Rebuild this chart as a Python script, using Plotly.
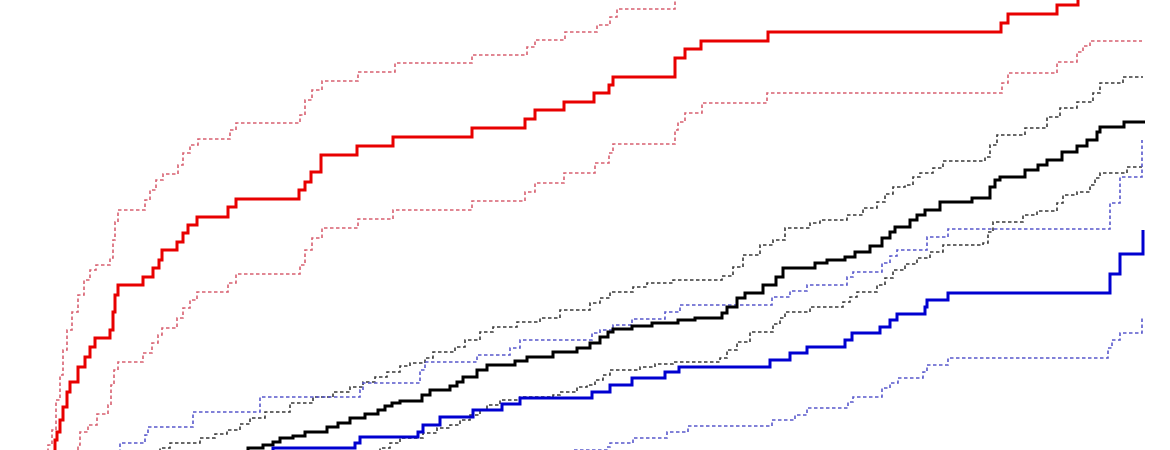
import plotly.graph_objects as go

# Step functions: (time, cumulative value) at each jump
red_x = [40, 55, 57, 60, 63, 67, 70, 78, 85, 90, 95, 110, 113, 115, 118, 143, 153, 159, 162, 177, 183, 188, 197, 228, 236, 299, 305, 311, 321, 357, 393, 472, 525, 535, 564, 594, 609, 613, 675, 685, 701, 768, 1001, 1008, 1057, 1078]
red_y = [-20, 10, 18, 30, 43, 58, 68, 83, 93, 103, 112, 120, 138, 155, 165, 173, 182, 190, 200, 208, 217, 225, 233, 243, 251, 260, 268, 278, 295, 304, 313, 322, 331, 340, 348, 357, 365, 373, 392, 401, 409, 418, 427, 436, 445, 470]

red_hi_x = [44, 48, 52, 56, 60, 63, 67, 72, 78, 84, 90, 96, 110, 113, 115, 118, 145, 150, 156, 163, 178, 183, 190, 198, 230, 236, 300, 305, 312, 322, 358, 395, 472, 527, 535, 565, 597, 610, 617, 675]
red_hi_y = [-10, 5, 20, 50, 75, 100, 120, 138, 155, 170, 180, 185, 192, 210, 228, 240, 250, 260, 270, 276, 285, 297, 305, 311, 320, 327, 335, 350, 360, 369, 378, 387, 395, 403, 410, 418, 425, 433, 441, 470]

red_lo_x = [76, 78, 80, 88, 97, 108, 111, 114, 118, 143, 152, 158, 162, 177, 183, 190, 197, 228, 236, 300, 305, 312, 322, 358, 393, 472, 525, 535, 564, 595, 609, 613, 675, 678, 685, 702, 767, 1002, 1008, 1057, 1077, 1083, 1090, 1142]
red_lo_y = [-10, 5, 18, 25, 36, 45, 65, 80, 88, 97, 107, 115, 122, 132, 142, 150, 158, 167, 176, 185, 200, 212, 222, 231, 240, 249, 258, 267, 277, 287, 297, 306, 320, 328, 337, 347, 357, 367, 377, 388, 398, 404, 409, 409]

blk_x = [240, 248, 263, 273, 280, 293, 305, 327, 338, 350, 365, 378, 385, 392, 400, 422, 430, 450, 457, 463, 477, 487, 515, 527, 553, 577, 590, 600, 608, 613, 632, 652, 678, 695, 722, 727, 737, 745, 763, 776, 783, 815, 827, 845, 855, 870, 882, 890, 895, 910, 917, 925, 940, 972, 990, 995, 1000, 1025, 1038, 1047, 1062, 1077, 1087, 1097, 1100, 1124, 1145]
blk_y = [-10, 2, 5, 8, 12, 14, 18, 23, 27, 32, 36, 40, 44, 47, 49, 55, 60, 64, 68, 73, 80, 85, 89, 93, 98, 102, 107, 113, 118, 121, 124, 127, 130, 132, 137, 143, 152, 157, 165, 173, 182, 187, 190, 193, 198, 204, 212, 218, 223, 230, 235, 240, 248, 252, 263, 270, 273, 280, 285, 290, 298, 304, 310, 318, 323, 328, 328]

blk_hi_x = [150, 160, 170, 200, 215, 227, 240, 250, 265, 290, 313, 333, 350, 363, 375, 387, 400, 410, 425, 433, 455, 465, 480, 493, 517, 540, 560, 590, 600, 610, 633, 647, 673, 722, 733, 743, 760, 773, 785, 810, 820, 847, 863, 877, 885, 893, 905, 913, 920, 933, 943, 985, 990, 997, 1025, 1047, 1060, 1077, 1093, 1100, 1123, 1143]
blk_hi_y = [-10, 2, 7, 12, 16, 20, 26, 32, 38, 47, 53, 58, 63, 68, 73, 78, 84, 87, 92, 98, 103, 110, 118, 123, 128, 132, 140, 147, 152, 158, 163, 167, 170, 174, 183, 195, 205, 210, 222, 227, 230, 235, 242, 248, 256, 263, 265, 273, 277, 282, 289, 293, 305, 315, 322, 333, 342, 348, 357, 367, 373, 373]

blk_lo_x = [370, 380, 390, 400, 423, 437, 450, 460, 470, 480, 487, 500, 520, 553, 560, 577, 587, 595, 603, 610, 640, 655, 673, 720, 727, 737, 750, 773, 780, 785, 810, 843, 850, 857, 877, 885, 893, 905, 917, 930, 943, 983, 988, 993, 1023, 1037, 1057, 1063, 1077, 1090, 1095, 1100, 1127, 1142]
blk_lo_y = [-10, 2, 7, 12, 17, 22, 25, 30, 35, 40, 45, 50, 53, 55, 58, 63, 65, 70, 75, 80, 83, 86, 88, 92, 100, 108, 118, 126, 132, 138, 143, 148, 153, 158, 165, 172, 180, 186, 192, 198, 205, 207, 218, 228, 235, 239, 247, 255, 258, 265, 272, 277, 283, 283]

blu_x = [265, 273, 355, 360, 418, 423, 440, 473, 502, 520, 592, 610, 632, 665, 679, 770, 790, 807, 845, 852, 880, 890, 897, 925, 927, 948, 1110, 1120, 1143]
blu_y = [-10, 2, 7, 13, 18, 25, 33, 40, 46, 52, 58, 65, 72, 78, 83, 90, 97, 103, 110, 117, 123, 130, 136, 143, 150, 157, 176, 196, 220]

blu_hi_x = [115, 120, 145, 148, 193, 260, 360, 363, 420, 425, 477, 510, 520, 592, 600, 613, 632, 665, 680, 772, 790, 807, 847, 853, 882, 890, 897, 927, 948, 1110, 1120, 1142]
blu_hi_y = [-10, 7, 15, 23, 38, 53, 60, 67, 80, 88, 95, 102, 110, 117, 120, 125, 131, 138, 145, 153, 159, 165, 173, 178, 187, 194, 200, 213, 221, 247, 273, 310]

blu_lo_x = [560, 573, 607, 610, 633, 667, 688, 772, 795, 807, 848, 853, 882, 890, 898, 923, 927, 948, 1108, 1112, 1120, 1142]
blu_lo_y = [-10, 0, 3, 7, 12, 18, 24, 30, 35, 42, 48, 53, 62, 67, 72, 78, 85, 92, 102, 110, 117, 133]

fig = go.Figure()

def step(x, y, color, width, dash="solid"):
    fig.add_trace(go.Scatter(x=x, y=y, mode="lines", line_shape="hv",
                             line=dict(color=color, width=width, dash=dash),
                             showlegend=False, hoverinfo="skip"))

dash_pat = "3.5px,2.5px"
step(red_hi_x, red_hi_y, "#d86070", 1.6, dash_pat)
step(red_lo_x, red_lo_y, "#d86070", 1.6, dash_pat)
step(blk_hi_x, blk_hi_y, "#383838", 1.6, dash_pat)
step(blk_lo_x, blk_lo_y, "#383838", 1.6, dash_pat)
step(blu_hi_x, blu_hi_y, "#5858cc", 1.6, dash_pat)
step(blu_lo_x, blu_lo_y, "#5858cc", 1.6, dash_pat)
step(red_x, red_y, "#e80000", 3)
step(blk_x, blk_y, "#000000", 3)
step(blu_x, blu_y, "#0000d0", 3)

fig.update_layout(
    width=1170, height=450,
    margin=dict(l=0, r=0, t=0, b=0),
    paper_bgcolor="white", plot_bgcolor="white",
    xaxis=dict(range=[0, 1170], visible=False, fixedrange=True),
    yaxis=dict(range=[0, 450], visible=False, fixedrange=True),
)

fig.write_html("out.html", config={"displayModeBar": False},
               post_script="document.body.style.margin='0';document.body.style.overflow='hidden';")
